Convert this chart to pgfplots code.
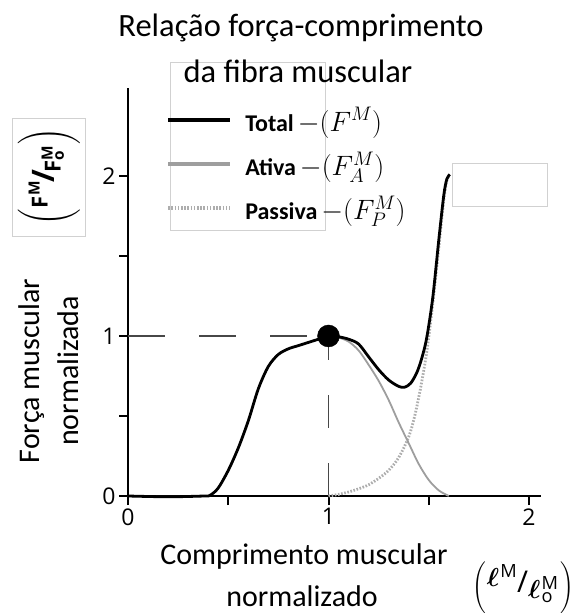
\RequirePackage{fix-cm}
\documentclass[border=0pt]{standalone}
\usepackage{pgfplots}
\pgfplotsset{compat=1.18}
\usepackage{fontspec}
\usepackage{amsmath}
\usepackage{bm}
\setmainfont{Carlito}
\newfontfamily\opensans{Open Sans}
\newcommand{\legtext}[2]{\fontsize{24}{26}\selectfont\textbf{#1}\,\fontsize{28}{30}\selectfont$-(#2)$}
\begin{document}
\begin{tikzpicture}[x=1pt,y=1pt]
\useasboundingbox (0,0) rectangle (573,613);
\draw[black!18, line width=0.8pt] (170,551) rectangle (325,383);
\draw[black!18, line width=0.8pt] (452,450) rectangle (547,407);
\draw[black!18, line width=0.8pt] (12,495) rectangle (85,377);
\begin{axis}[
  at={(128pt,117pt)}, anchor=origin,
  scale only axis, width=421.05pt, height=414.4pt,
  xmin=-0.04, xmax=2.06, ymin=-0.04, ymax=2.55,
  axis lines=middle,
  axis line style={line width=2.5pt, -},
  hide obscured x ticks=false, hide obscured y ticks=false,
  xtick={0,1,2}, ytick={0,1,2},
  minor xtick={0.5,1.5}, minor ytick={0.5,1.5},
  tick align=outside,
  major tick length=9pt, minor tick length=9pt,
  tick style={line width=2pt, black},
  tick label style={font=\fontsize{23}{25}\selectfont\opensans},
  /pgf/number format/assume math mode=true,
  clip=false,
  reverse legend,
  legend cell align=left,
  legend style={at={(0.1095,0.958)}, anchor=north west, draw=none, fill=none,
    row sep=15pt, inner sep=0pt,
    nodes={inner sep=2pt},
    /tikz/every odd column/.append style={column sep=11pt}},
  legend image code/.code={\draw[#1, line width=4pt] (0pt,0pt) -- (62pt,0pt);},
]
% dashed guides
\addplot[forget plot, black!72, line width=1.8pt, dash pattern=on 37pt off 34pt] coordinates {(0,1) (1,1)};
\addplot[forget plot, black!72, line width=1.8pt, dash pattern=on 33pt off 35pt] coordinates {(1,0) (1,1)};
% passive
\addplot[mark=none, smooth, black!32, line width=2.8pt, dash pattern=on 1.6pt off 1.6pt] coordinates {
(1.0,0) (1.05,0.01) (1.1,0.025) (1.15,0.045) (1.2,0.07) (1.25,0.11) (1.3,0.16) (1.35,0.24)
(1.4,0.37) (1.43,0.5) (1.46,0.68) (1.49,0.9) (1.52,1.2) (1.55,1.55) (1.575,1.85) (1.59,1.97) (1.6,2.0)};
\addlegendentry{\legtext{Passiva}{F_P^M}}
% active
\addplot[mark=none, smooth, black!38, line width=1.8pt] coordinates {
(0,0) (0.2,-0.005) (0.38,0) (0.41,0.005) (0.45,0.05) (0.5,0.16) (0.55,0.3) (0.6,0.47) (0.65,0.67)
(0.7,0.81) (0.75,0.885) (0.8,0.92) (0.85,0.94) (0.9,0.96) (0.95,0.98) (1.0,1.0)
(1.05,0.99) (1.1,0.965) (1.15,0.91) (1.2,0.82) (1.25,0.72) (1.3,0.6) (1.35,0.46) (1.4,0.33)
(1.45,0.2) (1.5,0.1) (1.55,0.035) (1.6,0.0)};
\addlegendentry{\legtext{Ativa}{F_A^M}}
% total
\addplot[mark=none, smooth, black, line width=2.8pt] coordinates {
(0,0) (0.2,-0.005) (0.38,0) (0.41,0.005) (0.45,0.05) (0.5,0.16) (0.55,0.3) (0.6,0.47) (0.65,0.67)
(0.7,0.81) (0.75,0.885) (0.8,0.92) (0.85,0.94) (0.9,0.96) (0.95,0.98) (1.0,1.0)
(1.05,0.995) (1.1,0.98) (1.15,0.95) (1.2,0.87) (1.25,0.79) (1.3,0.725) (1.35,0.685) (1.38,0.68)
(1.41,0.705) (1.44,0.77) (1.465,0.86) (1.49,0.99) (1.52,1.24) (1.55,1.6) (1.575,1.88) (1.59,1.98) (1.605,2.01)};
\addlegendentry{\legtext{Total}{F^M}}
% optimum point
\addplot[forget plot, only marks, mark=*, mark size=11pt, black] coordinates {(1,1)};
\end{axis}
% title
\node[anchor=base, font=\fontsize{32.5}{36}\selectfont] at (301,576) {Relação força-comprimento};
\node[anchor=base, font=\fontsize{32.5}{36}\selectfont] at (298,530) {da fibra muscular};
% x label
\node[anchor=base, font=\fontsize{30}{34}\selectfont] at (304,48) {Comprimento muscular};
\node[anchor=base, font=\fontsize{30}{34}\selectfont] at (302,6) {normalizado};
% y label
\node[anchor=base, rotate=90, font=\fontsize{30}{34}\selectfont] at (39,242) {Força muscular};
\node[anchor=base, rotate=90, font=\fontsize{30}{34}\selectfont] at (78,242) {normalizada};
% y unit
\node[rotate=90, font=\fontsize{22}{24}\selectfont\opensans\bfseries, inner sep=0pt] at (49,436)
 {$\left(\vrule height 25pt depth 25pt width 0pt\right.$\raisebox{7pt}{F\textsuperscript{M}}\kern-2pt{\fontsize{31}{31}\selectfont/}\kern-2pt\raisebox{-6pt}{F\rlap{\textsuperscript{M}}\textsubscript{o}\kern4pt}$\left.\vrule height 25pt depth 25pt width 0pt\right)$};
% x unit
\node[font=\fontsize{19}{21}\selectfont\opensans, inner sep=0pt] at (523,25)
 {$\left(\vrule height 21pt depth 21pt width 0pt\right.$\raisebox{6pt}{\fontsize{26}{28}\selectfont$\bm{\ell}$\kern1pt\textsuperscript{M}}{\fontsize{30}{30}\selectfont/}\raisebox{-6pt}{\fontsize{26}{28}\selectfont$\bm{\ell}$\kern1pt\rlap{\textsuperscript{M}}\textsubscript{o}\kern6pt}$\left.\vrule height 21pt depth 21pt width 0pt\right)$};
\end{tikzpicture}
\end{document}
